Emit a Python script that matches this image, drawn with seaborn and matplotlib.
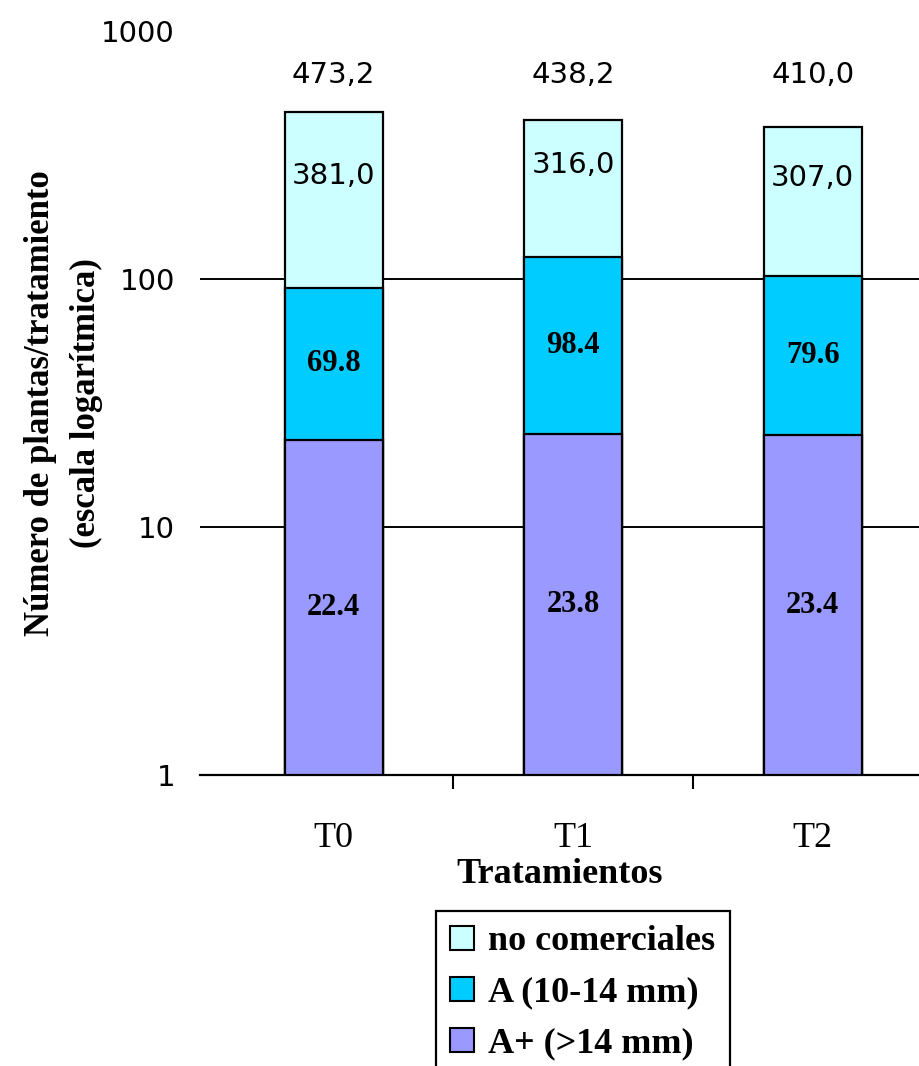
import numpy as np
import matplotlib
matplotlib.use("Agg")
import matplotlib.pyplot as plt
import seaborn as sns
from matplotlib.patches import Patch
from matplotlib.ticker import FixedLocator, NullLocator

# ---- data ----
categories = ["T0", "T1", "T2"]
a_plus = [22.4, 23.8, 23.4]          # A+ (>14 mm)
a_mid = [69.8, 98.4, 79.6]           # A (10-14 mm)
no_com = [381.0, 316.0, 307.0]       # no comerciales
totals = [473.2, 438.2, 410.0]
series_names = ["no comerciales", "A (10-14 mm)", "A+ (>14 mm)"]
y_ticks = [1, 10, 100, 1000]
y_tick_labels = ["1", "10", "100", "1000"]

colors = {"no comerciales": "#CCFFFF", "A (10-14 mm)": "#00CCFF", "A+ (>14 mm)": "#9999FF"}

sns.set_theme(style="white")
plt.rcParams.update({"text.color": "black", "axes.labelcolor": "black",
                     "xtick.color": "black", "ytick.color": "black"})
serif = ["Liberation Serif", "DejaVu Serif"]
narrow = ["Liberation Sans Narrow", "DejaVu Sans"]

fig = plt.figure(figsize=(9.2, 10.66), dpi=100)
ax = fig.add_axes([200 / 920, (1066 - 775) / 1066, 720 / 920, 744 / 1066])

c1 = np.array(a_plus)
c2 = c1 + np.array(a_mid)
c3 = c2 + np.array(no_com)

for vals, name in [(c3, "no comerciales"), (c2, "A (10-14 mm)"), (c1, "A+ (>14 mm)")]:
    sns.barplot(x=categories, y=vals, color=colors[name], saturation=1,
                edgecolor="black", linewidth=1.6, width=0.41, ax=ax, zorder=3)

ax.set_yscale("log")
ax.set_ylim(1, 1000)
ax.set_xlim(-0.558, 2.448)

# gridlines at inner decades
for v in y_ticks[1:-1]:
    ax.axhline(v, color="black", lw=1.4, zorder=1)

for s in ["left", "right", "top"]:
    ax.spines[s].set_visible(False)
ax.spines["bottom"].set_color("black")
ax.spines["bottom"].set_linewidth(1.6)
ax.spines["bottom"].set_zorder(4)

ax.yaxis.set_major_locator(FixedLocator(y_ticks))
ax.yaxis.set_minor_locator(NullLocator())
ax.set_yticklabels(y_tick_labels, family=narrow, fontsize=21, color="black")
ax.tick_params(axis="y", length=0, pad=18)

ax.set_xticks(range(len(categories)))
ax.set_xticklabels(categories, family=serif, fontsize=26, color="black")
ax.xaxis.set_minor_locator(FixedLocator([0.5, 1.5, 2.5]))
ax.tick_params(axis="x", which="major", length=0, pad=34)
ax.tick_params(axis="x", which="minor", bottom=True, length=10, width=1.5, direction="out", color="black")

ax.set_xlabel("Tratamientos", family=serif, fontweight="bold", fontsize=26, labelpad=2, color="black")
ax.set_ylabel("Número de plantas/tratamiento\n(escala logarítmica)", family=serif,
              fontweight="bold", fontsize=25, linespacing=1.5, color="black")
ax.yaxis.set_label_coords(-0.135, 0.5)

# labels
for i in range(len(categories)):
    ax.text(i, 665, f"{totals[i]:.1f}".replace(".", ","), ha="center", va="center",
            family=narrow, fontsize=21, zorder=5, color="black")
    top_c = np.sqrt(c2[i] * c3[i])
    ax.annotate(f"{no_com[i]:.1f}".replace(".", ","), (i, top_c), xytext=(0, 17),
                textcoords="offset points", ha="center", va="center",
                family=narrow, fontsize=21, zorder=5, color="black")
    ax.text(i, np.sqrt(c1[i] * c2[i]), f"{a_mid[i]:.1f}", ha="center", va="center",
            family=serif, fontweight="bold", fontsize=22, zorder=5, color="black")
    ax.text(i, np.sqrt(1 * c1[i]), f"{a_plus[i]:.1f}", ha="center", va="center",
            family=serif, fontweight="bold", fontsize=22, zorder=5, color="black")

handles = [Patch(facecolor=colors[n], edgecolor="black", linewidth=1.5) for n in series_names]
leg = fig.legend(handles, series_names, loc="upper left",
                 bbox_to_anchor=(436 / 920, 1 - 911 / 1066),
                 prop={"family": serif, "weight": "bold", "size": 26},
                 frameon=True, fancybox=False, framealpha=1, edgecolor="black",
                 handlelength=0.65, handleheight=0.65, handletextpad=0.4,
                 labelspacing=0.5, borderpad=0.4, borderaxespad=0)
leg.get_frame().set_linewidth(1.6)
for t in leg.get_texts():
    t.set_color("black")

fig.savefig("out.png", dpi=100)
